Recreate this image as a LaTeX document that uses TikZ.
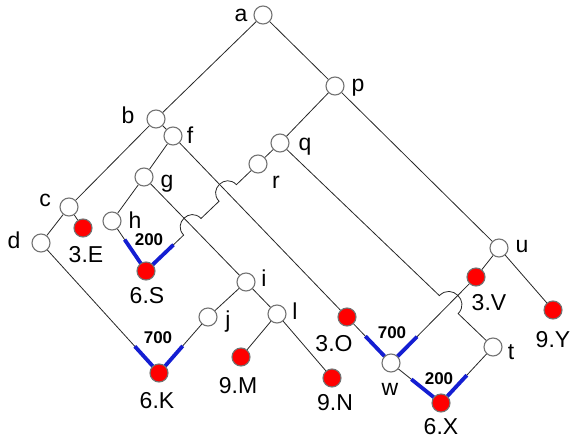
\documentclass[tikz,border=0pt]{standalone}
\usepackage{fontspec}
\setmainfont{Liberation Sans}
\usetikzlibrary{calc,backgrounds}
\definecolor{wireblue}{RGB}{20,30,210}
\begin{document}
\begin{tikzpicture}[x=1pt,y=-1pt,
  onode/.style={circle,draw=black!55,line width=1.1pt,fill=white,minimum size=18pt,inner sep=0pt},
  rnode/.style={circle,draw=black!55,line width=1.1pt,fill=red,minimum size=18pt,inner sep=0pt},
  lab/.style={font=\fontsize{23}{23}\selectfont,inner sep=0pt},
  wlab/.style={font=\fontsize{17}{17}\selectfont\bfseries,inner sep=0pt},
  wire/.style={draw=black!85,line width=0.8pt},
  bluepart/.style={draw=wireblue,line width=3.8pt},
  jump/.style={bend right=90,looseness=1.7},
  jumpl/.style={bend left=90,looseness=1.7}]
\useasboundingbox (0,0) rectangle (572,439);
% nodes
\node[onode] (a) at (263,15) {};
\node[onode] (p) at (335,86) {};
\node[onode] (b) at (156,119) {};
\node[onode] (f) at (173,136) {};
\node[onode] (q) at (280,143) {};
\node[onode] (r) at (258,164) {};
\node[onode] (g) at (144,177) {};
\node[onode] (c) at (69,207) {};
\node[onode] (h) at (112,221) {};
\node[onode] (d) at (41,243) {};
\node[rnode] (E3) at (83,228) {};
\node[rnode] (S6) at (146,271) {};
\node[onode] (i) at (246,282) {};
\node[onode] (j) at (208,317) {};
\node[onode] (l) at (277,314) {};
\node[rnode] (K6) at (159,373) {};
\node[rnode] (M9) at (241,357) {};
\node[rnode] (N9) at (332,378) {};
\node[rnode] (O3) at (347,317) {};
\node[onode] (w) at (391,363) {};
\node[rnode] (X6) at (441,403) {};
\node[onode] (t) at (493,347) {};
\node[rnode] (V3) at (476,277) {};
\node[onode] (u) at (499,248) {};
\node[rnode] (Y9) at (553,310) {};
% labels
\node[lab] (la) at (241,15) {a};
\node[lab] (lp) at (358,88) {p};
\node[lab] (lb) at (128,115) {b};
\node[lab] (lf) at (190,135) {f};
\node[lab] (lq) at (305,147) {q};
\node[lab] (lr) at (276,182) {r};
\node[lab] (lg) at (167,184) {g};
\node[lab] (lc) at (45,200) {c};
\node[lab] (lh) at (135,220) {h};
\node[lab] (ld) at (14,240) {d};
\node[lab] (lE3) at (86,255) {3.E};
\node[lab] (lS6) at (147,296) {6.S};
\node[lab] (li) at (264,278) {i};
\node[lab] (lj) at (228,322) {j};
\node[lab] (ll) at (295,311) {l};
\node[lab] (lK6) at (157,401) {6.K};
\node[lab] (lM9) at (238,386) {9.M};
\node[lab] (lN9) at (335,403) {9.N};
\node[lab] (lO3) at (334,344) {3.O};
\node[lab] (lw) at (390,389) {w};
\node[lab] (lX6) at (441,427) {6.X};
\node[lab] (lt) at (511,352) {t};
\node[lab] (lV3) at (489,303) {3.V};
\node[lab] (lu) at (522,247) {u};
\node[lab] (lY9) at (553,340) {9.Y};
\node[wlab] (n200a) at (149,240) {200};
\node[wlab] (n700a) at (158,338) {700};
\node[wlab] (n700b) at (392,333) {700};
\node[wlab] (n200b) at (439,379) {200};
% crossing points
\coordinate (X1) at (intersection of r--S6 and f--O3);
\coordinate (X2) at (intersection of r--S6 and g--i);
\coordinate (X3) at (intersection of q--t and w--V3);
\begin{pgfonlayer}{background}
\draw[wire] (a) -- (b);
\draw[wire] (a) -- (p);
\draw[wire] (b) -- (c);
\draw[wire] (b) -- (f);
\draw[wire] (c) -- (d);
\draw[wire] (c) -- (E3);
\draw[wire] (d) -- (K6);
\draw[wire] (f) -- (g);
\draw[wire] (f) -- (O3);
\draw[wire] (g) -- (h);
\draw[wire] (g) -- (i);
\draw[wire] (h) -- (S6);
\draw[wire] (i) -- (j);
\draw[wire] (i) -- (l);
\draw[wire] (j) -- (K6);
\draw[wire] (l) -- (M9);
\draw[wire] (l) -- (N9);
\draw[wire] (O3) -- (w);
\draw[wire] (w) -- (V3);
\draw[wire] (w) -- (X6);
\draw[wire] (t) -- (X6);
\draw[wire] (V3) -- (u);
\draw[wire] (u) -- (Y9);
\draw[wire] (p) -- (u);
\draw[wire] (p) -- (q);
\draw[wire] (q) -- (r);
\draw[wire] (r) -- ($(X1)!12pt!(r)$) to[jump] ($(X1)!12pt!(S6)$)
  -- ($(X2)!12pt!(r)$) to[jump] ($(X2)!12pt!(S6)$) -- (S6);
\draw[wire] (q) -- ($(X3)!13pt!(q)$) to[jumpl] ($(X3)!13pt!(t)$) -- (t);
% blue highlighted ends
\draw[bluepart] ($(S6)!8pt!(h)$) -- ($(S6)!38pt!(h)$);
\draw[bluepart] ($(S6)!8pt!(r)$) -- ($(S6)!38pt!(r)$);
\draw[bluepart] ($(K6)!8pt!(d)$) -- ($(K6)!36pt!(d)$);
\draw[bluepart] ($(K6)!8pt!(j)$) -- ($(K6)!36pt!(j)$);
\draw[bluepart] ($(w)!9pt!(O3)$) -- ($(w)!37pt!(O3)$);
\draw[bluepart] ($(w)!9pt!(V3)$) -- ($(w)!37pt!(V3)$);
\draw[bluepart] ($(X6)!8pt!(w)$) -- ($(X6)!38pt!(w)$);
\draw[bluepart] ($(X6)!8pt!(t)$) -- ($(X6)!38pt!(t)$);
\end{pgfonlayer}
\end{tikzpicture}
\end{document}
